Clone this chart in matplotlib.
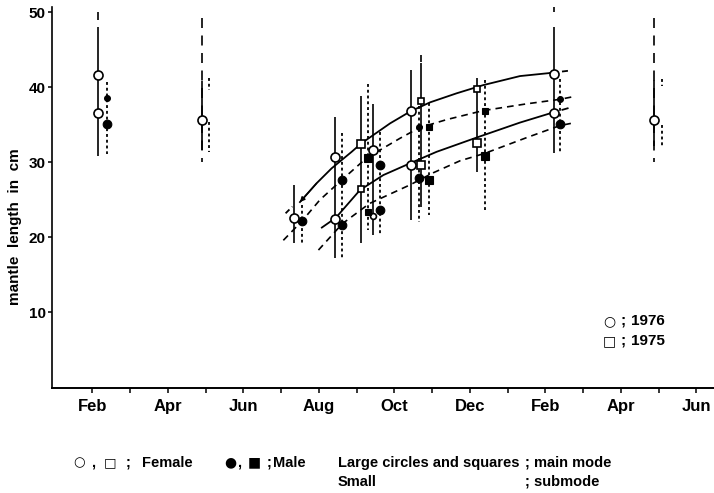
import matplotlib
matplotlib.use("Agg")
import matplotlib.pyplot as plt

# x positions are months: 2 = Feb 1976, 14 = Feb 1977
month_ticks = list(range(2, 19))
month_labels = ["Feb", "", "Apr", "", "Jun", "", "Aug", "", "Oct", "", "Dec",
                "", "Feb", "", "Apr", "", "Jun"]
length_ticks = [10, 20, 30, 40, 50]

# female modes (open symbols); main = large symbol, sub = small symbol
fem_x = [2.16, 2.16, 4.90, 7.34, 8.43, 8.43, 9.11, 9.11, 9.43, 9.43,
         10.43, 10.43, 10.72, 10.72, 12.18, 12.18, 14.22, 14.22, 16.89]
fem_y = [41.6, 36.6, 35.6, 22.6, 30.7, 22.5, 32.4, 26.5, 31.6, 22.8,
         36.8, 29.7, 38.2, 29.7, 39.8, 32.6, 41.8, 36.6, 35.7]
fem_sym = ["o", "o", "o", "o", "o", "o", "s", "s", "o", "o",
           "o", "o", "s", "s", "s", "s", "o", "o", "o"]
fem_main = [1, 1, 1, 1, 1, 1, 1, 0, 1, 0, 1, 1, 0, 1, 0, 1, 1, 1, 1]

# male modes (filled symbols)
male_x = [2.38, 2.38, 7.56, 8.62, 8.62, 9.30, 9.30, 9.62, 9.62,
          10.65, 10.65, 10.91, 10.91, 12.39, 12.39, 14.39, 14.39]
male_y = [38.6, 35.1, 22.2, 27.7, 21.7, 30.6, 23.4, 29.6, 23.7,
          34.7, 27.9, 34.7, 27.7, 36.9, 30.8, 38.4, 35.1]
male_sym = ["o", "o", "o", "o", "o", "s", "s", "o", "o",
            "o", "o", "s", "s", "s", "s", "o", "o"]
male_main = [0, 1, 1, 1, 1, 1, 0, 1, 1, 0, 1, 0, 1, 0, 1, 0, 1]

# size ranges (female solid, male dotted)
fem_rng_x = [2.16, 4.90, 7.34, 8.43, 9.11, 9.43, 10.43, 10.72, 12.18, 14.22, 16.89]
fem_rng_lo = [30.9, 31.6, 19.2, 17.2, 19.3, 20.3, 22.3, 24.1, 28.7, 31.3, 32.2]
fem_rng_hi = [48.0, 40.8, 27.0, 36.0, 38.9, 37.8, 42.3, 43.2, 41.3, 48.1, 41.0]

fem_ext_x = [2.16, 4.90, 10.72, 14.22, 16.89]
fem_ext_lo = [49.0, 30.1, 43.4, 50.1, 30.1]
fem_ext_hi = [50.0, 49.2, 44.3, 50.8, 49.2]

male_rng_x = [2.38, 5.09, 5.09, 7.56, 8.62, 9.30, 9.62, 10.65, 10.91, 12.39, 14.39, 17.10, 17.10]
male_rng_lo = [31.1, 31.4, 39.7, 19.2, 17.2, 21.0, 20.5, 22.1, 23.0, 23.6, 31.2, 32.1, 40.2]
male_rng_hi = [40.7, 35.4, 41.2, 24.3, 33.9, 40.5, 34.1, 37.5, 37.9, 41.0, 41.1, 35.0, 41.1]

# growth curves
fem_up_x = [7.50, 7.94, 8.34, 8.87, 9.12, 9.89, 10.43, 10.95, 11.65, 12.36, 13.33, 14.11]
fem_up_y = [24.7, 27.2, 29.2, 31.4, 32.5, 35.2, 36.8, 38.0, 39.2, 40.3, 41.5, 41.9]
fem_up_tail_x = [14.11, 14.60]
fem_up_tail_y = [41.9, 42.2]
fem_up_head_x = [7.12, 7.30]
fem_up_head_y = [23.2, 24.1]

fem_lo_x = [8.08, 8.45, 9.09, 9.71, 10.43, 11.12, 12.18, 13.33, 14.11]
fem_lo_y = [21.3, 22.6, 26.3, 28.3, 29.9, 31.4, 33.3, 35.3, 36.5]
fem_lo_tail_x = [14.11, 14.66]
fem_lo_tail_y = [36.5, 37.3]

male_up_x = [7.06, 7.56, 8.03, 8.62, 9.27, 10.15, 10.66, 11.39, 12.36, 13.51, 14.39, 14.79]
male_up_y = [19.6, 22.2, 25.0, 27.7, 30.6, 33.2, 34.6, 35.7, 36.9, 37.8, 38.4, 38.8]

male_lo_x = [7.99, 8.62, 9.34, 10.42, 11.03, 11.74, 12.40, 13.51, 14.39, 14.79]
male_lo_y = [18.3, 21.8, 24.5, 27.0, 28.6, 30.2, 31.2, 33.3, 34.9, 35.3]


plt.rcParams["font.family"] = ["Liberation Sans", "DejaVu Sans"]
plt.rcParams["font.weight"] = "bold"

fig = plt.figure(figsize=(7.14, 4.93), dpi=100)
ax = fig.add_axes([0.0733, 0.2124, 0.9267, 0.7728])

ink = "black"
dash_curve = (0, (4, 3))
dash_ext = (0, (6, 4.5))
dot_male = (0, (1.6, 1.6))

# curves
ax.plot(fem_up_x, fem_up_y, color=ink, lw=1.3)
ax.plot(fem_up_tail_x, fem_up_tail_y, color=ink, lw=1.3, linestyle=dash_curve)
ax.plot(fem_up_head_x, fem_up_head_y, color=ink, lw=1.3, linestyle=(0, (3, 2)))
ax.annotate("", xy=(fem_up_x[0], fem_up_y[0]), xytext=(fem_up_x[1], fem_up_y[1]),
            arrowprops=dict(arrowstyle="-|>", color=ink, lw=1.0, mutation_scale=7,
                            shrinkA=0, shrinkB=0))
ax.plot(fem_lo_x, fem_lo_y, color=ink, lw=1.3)
ax.plot(fem_lo_tail_x, fem_lo_tail_y, color=ink, lw=1.3, linestyle=dash_curve)
ax.plot(male_up_x, male_up_y, color=ink, lw=1.2, linestyle=dash_curve)
ax.plot(male_lo_x, male_lo_y, color=ink, lw=1.2, linestyle=dash_curve)

# ranges
for x, lo, hi in zip(fem_rng_x, fem_rng_lo, fem_rng_hi):
    ax.plot([x, x], [lo, hi], color=ink, lw=1.2, solid_capstyle="butt")
for x, lo, hi in zip(fem_ext_x, fem_ext_lo, fem_ext_hi):
    ax.plot([x, x], [hi, lo], color=ink, lw=1.2, linestyle=dash_ext)
for x, lo, hi in zip(male_rng_x, male_rng_lo, male_rng_hi):
    ax.plot([x, x], [hi, lo], color=ink, lw=1.3, linestyle=dot_male)

# symbols
size_open = {("o", 1): 6.5, ("o", 0): 4.2, ("s", 1): 5.6, ("s", 0): 4.2}
size_fill = {("o", 1): 6.2, ("o", 0): 4.2, ("s", 1): 5.6, ("s", 0): 4.2}
for x, y, m, big in zip(fem_x, fem_y, fem_sym, fem_main):
    ax.plot(x, y, marker=m, ms=size_open[(m, big)], mfc="white", mec=ink,
            mew=1.2, linestyle="none", zorder=5)
for x, y, m, big in zip(male_x, male_y, male_sym, male_main):
    ax.plot(x, y, marker=m, ms=size_fill[(m, big)], mfc=ink, mec=ink,
            mew=0.8, linestyle="none", zorder=5)

ax.set_xlim(0.94, 18.47)
ax.set_ylim(-0.13, 50.67)
ax.set_xticks(month_ticks)
ax.set_xticklabels(month_labels, fontsize=12, fontweight="bold")
ax.set_yticks(length_ticks)
ax.set_yticklabels([str(v) for v in length_ticks], fontsize=11, fontweight="bold")
ax.tick_params(axis="x", direction="out", length=3.8, width=1.1, pad=4)
ax.tick_params(axis="y", direction="out", length=3.2, width=1.1, pad=1.5)
for side in ["top", "right"]:
    ax.spines[side].set_visible(False)
ax.spines["left"].set_linewidth(1.2)
ax.spines["bottom"].set_linewidth(1.4)

fig.text(0.021, 0.5406, "mantle  length  in  cm", rotation=90, ha="center",
         va="center", fontsize=11, fontweight="bold")


def put(px, py, s, size=10.5, ha="left", glyph=False):
    fam = ["DejaVu Sans"] if glyph else None
    fig.text(px / 714, 1 - py / 493, s, ha=ha, va="center", fontsize=size,
             fontweight="bold", family=fam)


# year key
put(609.5, 320.7, "○", size=10, ha="center", glyph=True)
put(621, 320.7, ";", size=11)
put(631, 320.7, "1976", size=11)
put(609.5, 340.7, "□", size=10, ha="center", glyph=True)
put(621, 340.7, ";", size=11)
put(631, 340.7, "1975", size=11)

# footnote
y1, y2 = 462.7, 481.7
put(79, y1, "○", size=9.5, ha="center", glyph=True)
put(91, y1, ",")
put(110, y1, "□", size=9.5, ha="center", glyph=True)
put(126, y1, ";")
put(142, y1, "Female")
put(230, y1, "●", size=10, ha="center", glyph=True)
put(237, y1, ",")
put(254, y1, "■", size=10, ha="center", glyph=True)
put(267, y1, ";")
put(273, y1, "Male")
put(338, y1, "Large circles and squares")
put(525, y1, "; main mode")
put(338, y2, "Small")
put(525, y2, "; submode")

fig.savefig("out.png", dpi=100, facecolor="white")
